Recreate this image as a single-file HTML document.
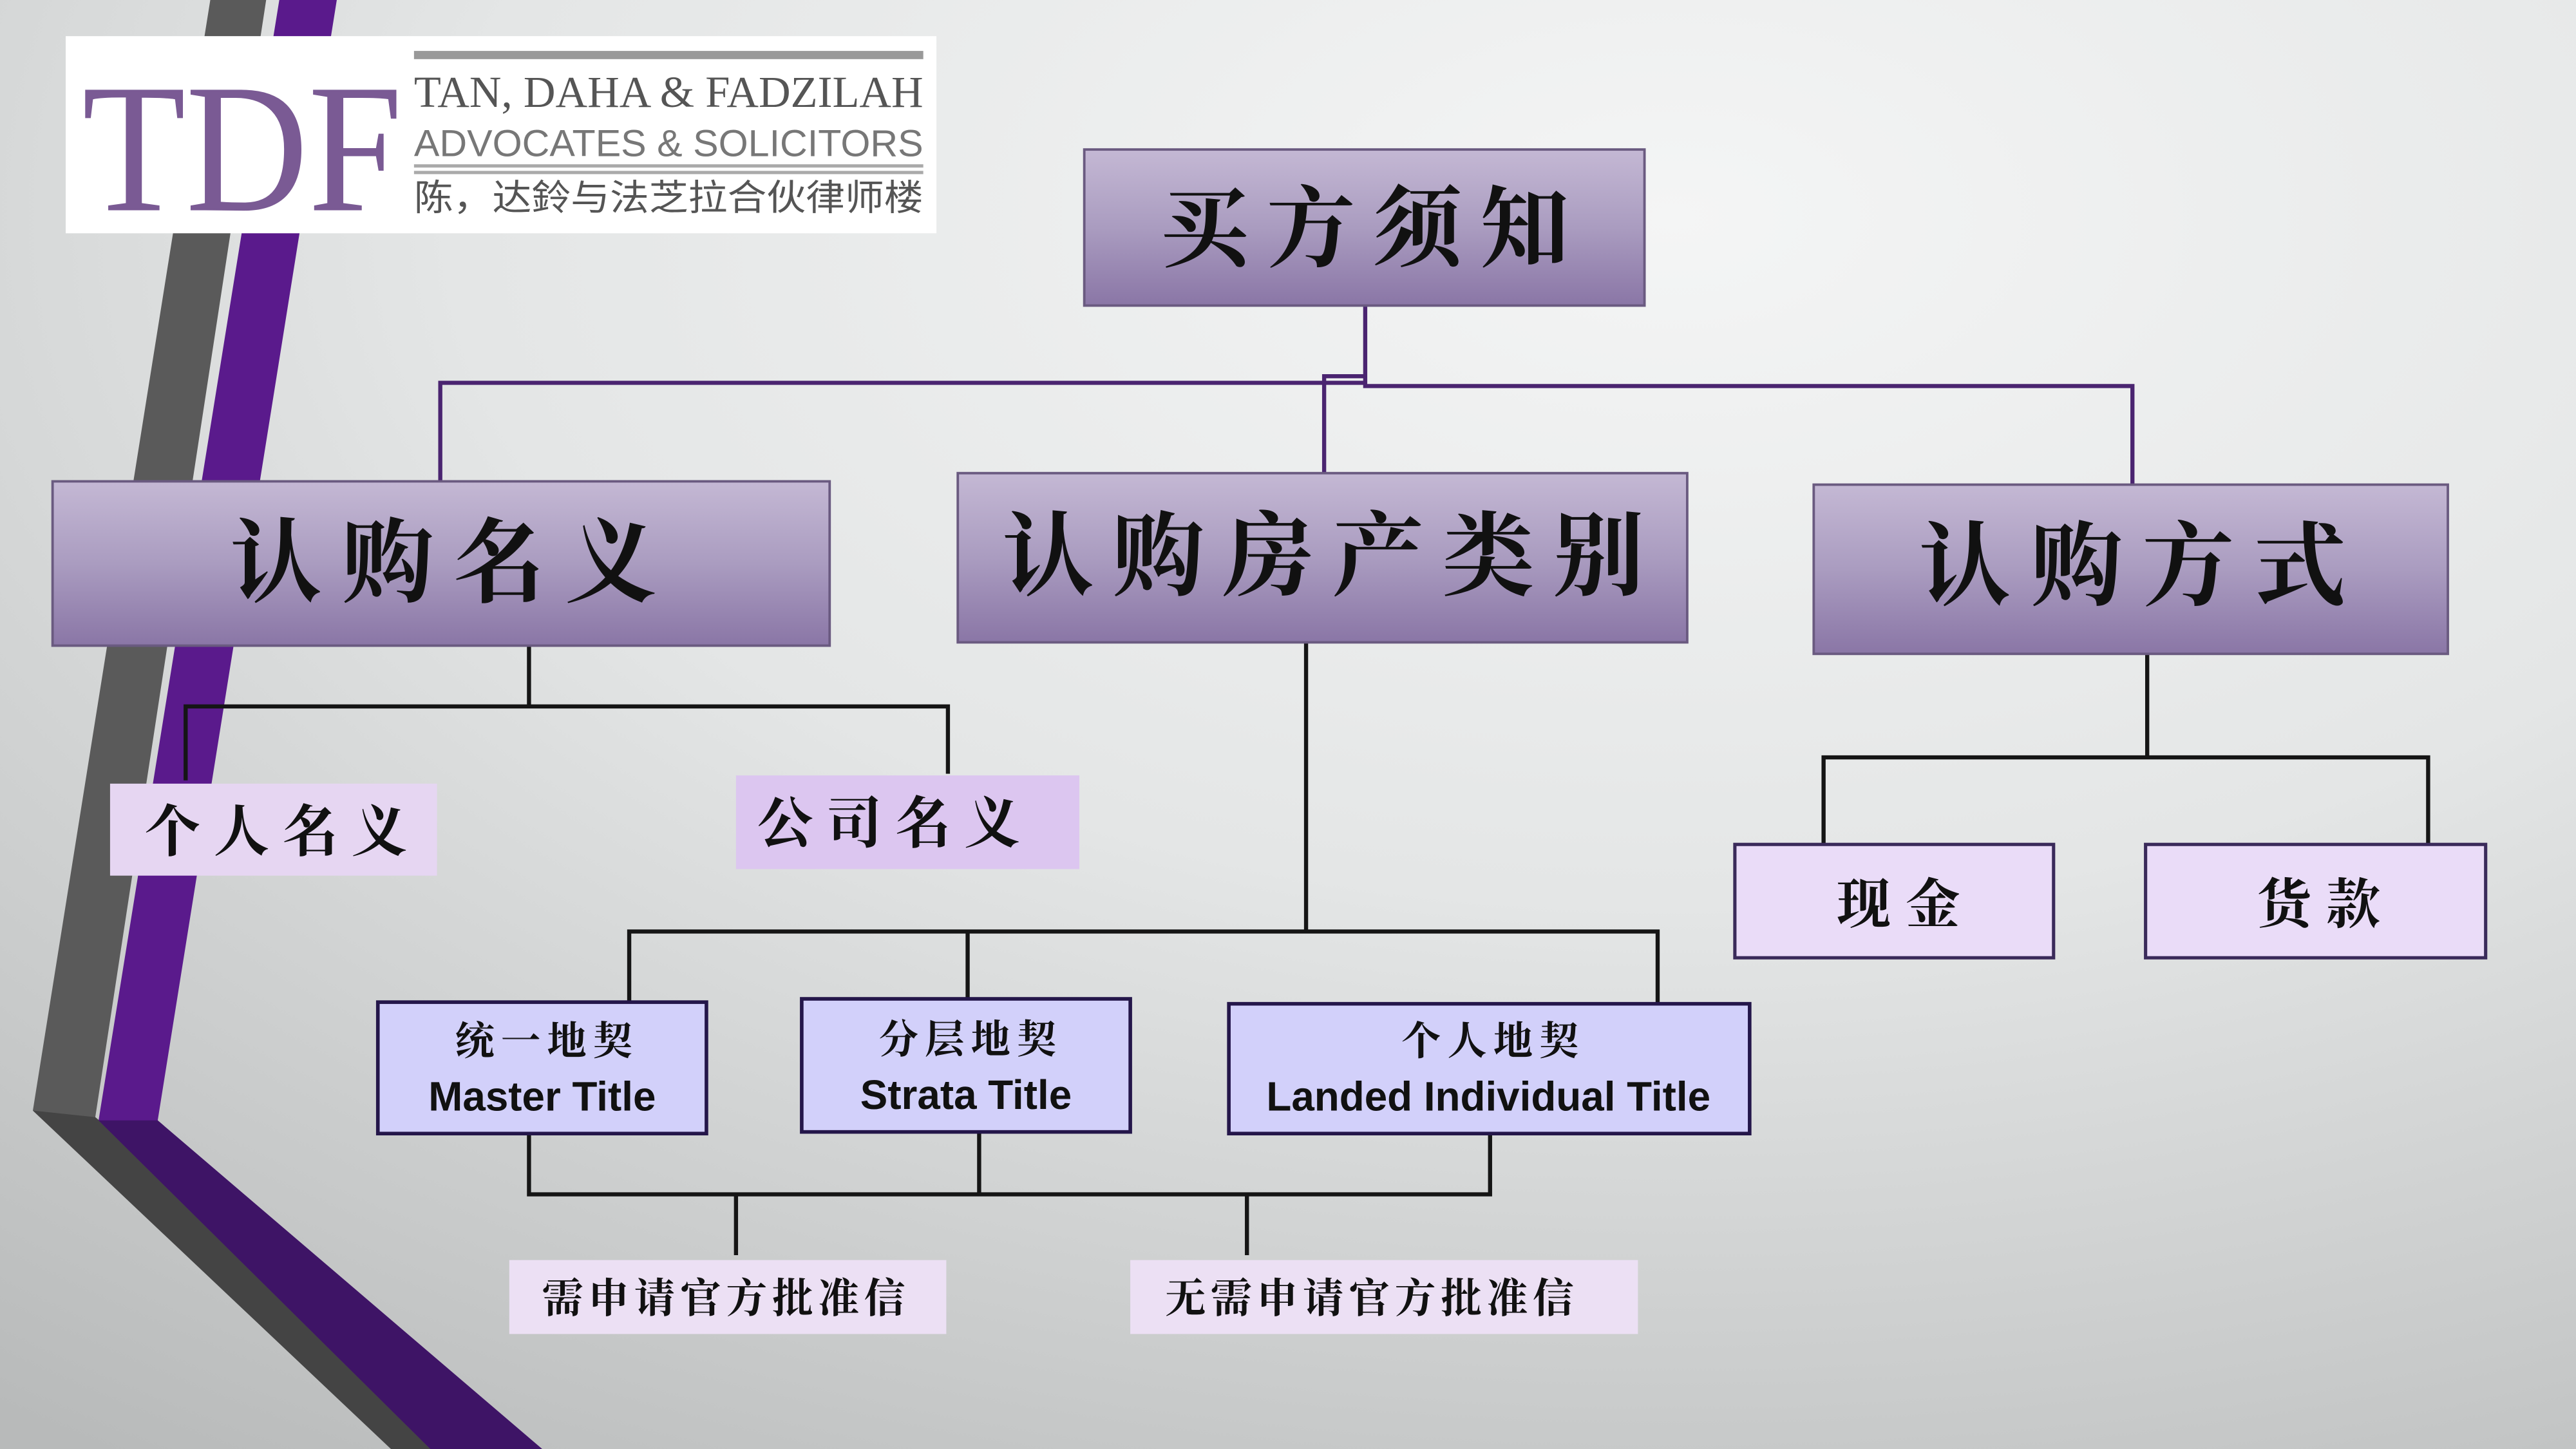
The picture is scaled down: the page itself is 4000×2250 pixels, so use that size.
<!DOCTYPE html>
<html><head><meta charset="utf-8"><style>
html,body{margin:0;padding:0;width:4000px;height:2250px;overflow:hidden;}
svg{display:block}
.cn{font-family:"Liberation Serif","Noto Serif CJK SC","AR PL UKai CN",serif;fill:#111;font-weight:bold;}
.en{font-family:"Liberation Sans",sans-serif;font-weight:bold;fill:#111;}
</style></head><body>
<svg width="4000" height="2250" viewBox="0 0 1568 882" xmlns="http://www.w3.org/2000/svg">
<defs>
<radialGradient id="bg" cx="0.65" cy="0.15" r="1.05">
<stop offset="0" stop-color="#f4f5f5"/><stop offset="0.45" stop-color="#e4e6e6"/><stop offset="1" stop-color="#b8baba"/>
</radialGradient>
<linearGradient id="pg" x1="0" y1="0" x2="0" y2="1">
<stop offset="0" stop-color="#c4b8d4"/><stop offset="0.5" stop-color="#aa9cc0"/><stop offset="1" stop-color="#8a76a6"/>
</linearGradient>
</defs>
<rect width="1568" height="882" fill="url(#bg)"/>
<polygon points="128,0 162,0 58,680 300,882 238,882 20,676" fill="#5a5a5a"/>
<polygon points="20,676 58,680 300,882 238,882" fill="#444"/>
<polygon points="170,0 205,0 96,682 330,882 262,882 60,682" fill="#5a1a8c"/>
<polygon points="60,682 96,682 330,882 262,882" fill="#3e1466"/>
<rect x="40" y="22" width="530" height="120" fill="#fff"/>
<text x="50" y="128" font-family="Liberation Serif,serif" font-size="112" fill="#7a5a94" textLength="195" lengthAdjust="spacingAndGlyphs">TDF</text>
<rect x="252" y="31" width="310" height="5" fill="#999"/>
<text x="252" y="65" font-family="Liberation Serif,serif" font-size="27" fill="#555" textLength="310" lengthAdjust="spacingAndGlyphs">TAN, DAHA &amp; FADZILAH</text>
<text x="252" y="95" font-family="Liberation Sans,sans-serif" font-size="23" fill="#777" textLength="310" lengthAdjust="spacingAndGlyphs">ADVOCATES &amp; SOLICITORS</text>
<rect x="252" y="100" width="310" height="2" fill="#aaa"/><rect x="252" y="104" width="310" height="2" fill="#aaa"/>
<text x="252" y="128" font-family="Noto Sans CJK SC,sans-serif" font-size="22" fill="#555" textLength="310" lengthAdjust="spacingAndGlyphs">陈，达鈴与法芝拉合伙律师楼</text>
<g stroke="#4a2470" stroke-width="2.5" fill="none">
<polyline points="831,186 831,235 1298,235 1298,295"/>
<polyline points="268,293 268,233 831,233"/>
<polyline points="806,288 806,229 831,229"/>
</g>
<g stroke="#151515" stroke-width="2.5" fill="none">
<polyline points="322,393 322,430"/><polyline points="113,475 113,430 577,430 577,471"/>
<polyline points="795,391 795,567"/><polyline points="383,609 383,567 1009,567 1009,610"/><line x1="589" y1="567" x2="589" y2="608"/>
<polyline points="322,690 322,727 907,727 907,690"/><line x1="596" y1="689" x2="596" y2="727"/>
<line x1="448" y1="727" x2="448" y2="764"/><line x1="759" y1="727" x2="759" y2="764"/>
<line x1="1307" y1="398" x2="1307" y2="461"/><polyline points="1110,514 1110,461 1478,461 1478,514"/>
</g>
<g fill="url(#pg)" stroke="#6a5a80" stroke-width="1.5">
<rect x="660" y="91" width="341" height="95"/>
<rect x="32" y="293" width="473" height="100"/>
<rect x="583" y="288" width="444" height="103"/>
<rect x="1104" y="295" width="386" height="103"/>
</g>
<text class="cn" x="836" y="158" font-size="54" text-anchor="middle" letter-spacing="11">买方须知</text>
<text class="cn" x="276" y="362" font-size="56" text-anchor="middle" letter-spacing="12">认购名义</text>
<text class="cn" x="811" y="358" font-size="56" text-anchor="middle" letter-spacing="11">认购房产类别</text>
<text class="cn" x="1304" y="364" font-size="56" text-anchor="middle" letter-spacing="12">认购方式</text>
<rect x="67" y="477" width="199" height="56" fill="#e6d6f2"/>
<rect x="448" y="472" width="209" height="57" fill="#dcc6f0"/>
<text class="cn" x="172" y="518" font-size="34" text-anchor="middle" letter-spacing="8">个人名义</text>
<text class="cn" x="545" y="513" font-size="34" text-anchor="middle" letter-spacing="8">公司名义</text>
<g fill="#d2d0fa" stroke="#24164a" stroke-width="2.2">
<rect x="230" y="610" width="200" height="80"/>
<rect x="488" y="608" width="200" height="81"/>
<rect x="748" y="611" width="317" height="79"/>
</g>
<text class="cn" x="333" y="642" font-size="24" text-anchor="middle" letter-spacing="4">统一地契</text>
<text class="en" x="330" y="676" font-size="25" text-anchor="middle">Master Title</text>
<text class="cn" x="591" y="641" font-size="24" text-anchor="middle" letter-spacing="4">分层地契</text>
<text class="en" x="588" y="675" font-size="25" text-anchor="middle">Strata Title</text>
<text class="cn" x="909" y="642" font-size="24" text-anchor="middle" letter-spacing="4">个人地契</text>
<text class="en" x="906" y="676" font-size="25" text-anchor="middle">Landed Individual Title</text>
<rect x="310" y="767" width="266" height="45" fill="#ece0f4"/>
<rect x="688" y="767" width="309" height="45" fill="#ece0f4"/>
<text class="cn" x="442" y="799" font-size="25" text-anchor="middle" letter-spacing="3">需申请官方批准信</text>
<text class="cn" x="835" y="799" font-size="25" text-anchor="middle" letter-spacing="3">无需申请官方批准信</text>
<g fill="#eadcf8" stroke="#3a2a5a" stroke-width="2">
<rect x="1056" y="514" width="194" height="69"/>
<rect x="1306" y="514" width="207" height="69"/>
</g>
<text class="cn" x="1160" y="562" font-size="33" text-anchor="middle" letter-spacing="9">现金</text>
<text class="cn" x="1416" y="562" font-size="33" text-anchor="middle" letter-spacing="9">货款</text>
</svg>
</body></html>
